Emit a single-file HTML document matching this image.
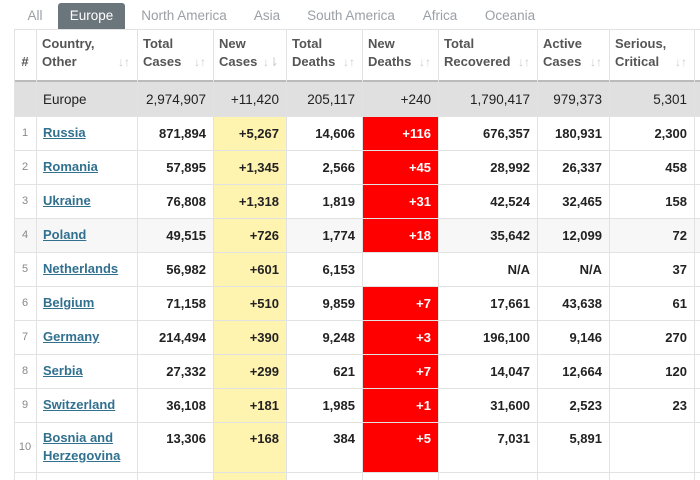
<!DOCTYPE html>
<html><head><meta charset="utf-8"><style>
body{margin:0;width:700px;height:480px;overflow:hidden;background:#fff;font-family:"Liberation Sans",Arial,sans-serif;position:relative}
.t{position:absolute;top:3px;height:26px;line-height:26px;font-size:13.5px;color:#9aa0a6;text-align:center}
.t.act{background:#6b757c;color:#fff;border-radius:3px 3px 0 0}
.c{position:absolute;box-sizing:border-box;font-size:13px;color:#222;font-weight:bold;padding:0 7px;display:flex;align-items:center;justify-content:flex-end}
.h{position:absolute;box-sizing:border-box;font-size:13px;color:#555;font-weight:bold;padding:6px 6px;line-height:18px}
.h .ar{position:absolute;right:7px;bottom:11px;color:#ccc;font-size:12px;font-weight:normal}
.vl{position:absolute;width:1px;background:#e2e2e2}
.hl{position:absolute;height:1px;background:#e2e2e2;left:14px;width:686px}
a{color:#31708f;text-decoration:underline;font-weight:bold}
</style></head><body>
<div class="t" style="left:20px;width:30px">All</div>
<div class="t act" style="left:58px;width:67px">Europe</div>
<div class="t" style="left:135px;width:98px">North America</div>
<div class="t" style="left:247px;width:40px">Asia</div>
<div class="t" style="left:302px;width:98px">South America</div>
<div class="t" style="left:415px;width:50px">Africa</div>
<div class="t" style="left:480px;width:60px">Oceania</div>
<div id="tbl"></div>
<script>
const countries=["Russia","Romania","Ukraine","Poland","Netherlands","Belgium","Germany","Serbia","Switzerland","Bosnia and Herzegovina"];
const totalCases=["871,894","57,895","76,808","49,515","56,982","71,158","214,494","27,332","36,108","13,306"];
const newCases=["+5,267","+1,345","+1,318","+726","+601","+510","+390","+299","+181","+168"];
const totalDeaths=["14,606","2,566","1,819","1,774","6,153","9,859","9,248","621","1,985","384"];
const newDeaths=["+116","+45","+31","+18","","+7","+3","+7","+1","+5"];
const recovered=["676,357","28,992","42,524","35,642","N/A","17,661","196,100","14,047","31,600","7,031"];
const active=["180,931","26,337","32,465","12,099","N/A","43,638","9,146","12,664","2,523","5,891"];
const serious=["2,300","458","158","72","37","61","270","120","23",""];
const headers=[["#",""],["Country,","Other"],["Total","Cases"],["New","Cases"],["Total","Deaths"],["New","Deaths"],["Total","Recovered"],["Active","Cases"],["Serious,","Critical"],["",""]];
const europe=["","Europe","2,974,907","+11,420","205,117","+240","1,790,417","979,373","5,301",""];
const colX=[14,36,137,213,286,362,438,537,609,694,710];
const rowY=[116,150,184,218,252,286,320,354,388,422,472];
const T=document.getElementById('tbl');
function add(cls,x,y,w,h,html,name){const d=document.createElement('div');d.className=cls;


d.style.left=x+'px';d.style.top=y+'px';d.style.width=w+'px';d.style.height=h+'px';d.innerHTML=html;T.appendChild(d);return d;}
// header
headers.forEach((hd,i)=>{const d=add('h',colX[i],29,colX[i+1]-colX[i],53,hd[0]+'<br>'+hd[1]+(i>0&&i<9?'<span class="ar">'+(i==3?'↓⇂':'↓↑')+'</span>':''),'header-'+i);
if(i==0){d.style.paddingTop='24px';d.style.textAlign='center';}});
// europe row
const er=add('c',14,82,686,34,'','europe-row-bg');er.style.background='#e0e0e0';
europe.forEach((v,i)=>{const d=add('c',colX[i],82,colX[i+1]-colX[i],34,v,'europe-cell-'+i);d.style.fontWeight='normal';d.style.fontSize='13.5px';if(i==1)d.style.justifyContent='flex-start';});
const vals=[countries,totalCases,newCases,totalDeaths,newDeaths,recovered,active,serious];
countries.forEach((c,r)=>{const y=rowY[r],h=rowY[r+1]-y;
 if(r==3){const bg=add('c',14,y,686,h,'','row-highlight');bg.style.background='#f7f7f7';}
 const n=add('c',colX[0],y,colX[1]-colX[0],h,String(r+1),'rank-'+(r+1));n.style.fontWeight='normal';n.style.fontSize='11px';n.style.color='#888';n.style.justifyContent='center';n.style.padding='0';
 vals.forEach((arr,k)=>{const i=k+1;const d=add('c',colX[i],y,colX[i+1]-colX[i],h,'', 'cell-'+r+'-'+i);
  if(i==1){d.style.justifyContent='flex-start';d.innerHTML='<a>'+(c=='Bosnia and Herzegovina'?'Bosnia and<br>Herzegovina':c)+'</a>';d.style.lineHeight='18px';}
  else d.textContent=arr[r];
  if(r==9&&i>1){d.style.alignItems='flex-start';d.style.paddingTop='9px';}
  if(i==3)d.style.background='#fff3b0';
  if(i==5&&arr[r]){d.style.background='#ff0000';d.style.color='#fff';}
 });
});
const yb=add('c',213,472,73,8,'','new-cases-bg-tail');yb.style.background='#fff3b0';
// grid lines
[29,80,116,150,184,218,252,286,320,354,388,422,472].forEach(y=>{const l=document.createElement('div');l.className='hl';l.style.top=y+'px';


if(y==80){l.style.height='2px';l.style.background='#bbb';}T.appendChild(l);});
colX.slice(0,10).forEach(x=>{const l=document.createElement('div');l.className='vl';l.style.left=x+'px';l.style.top='29px';l.style.height='451px';


T.appendChild(l);});
</script>
</body></html>
